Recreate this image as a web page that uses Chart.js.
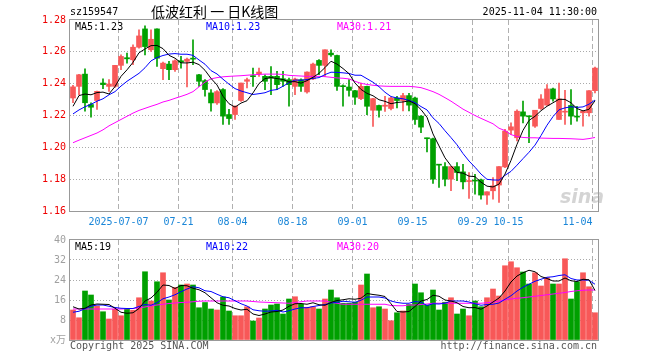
<!DOCTYPE html>
<html>
<head>
<meta charset="utf-8">
<script src="https://cdn.jsdelivr.net/npm/chart.js@4.4.0/dist/chart.umd.min.js"></script>
<style>
  html, body { margin: 0; padding: 0; background: #fff; }
  #wrap { position: relative; width: 660px; height: 360px; overflow: hidden;
          font-family: "DejaVu Sans Mono", monospace; font-size: 10px; }
  canvas { position: absolute; left: 0; }
  .t { position: absolute; white-space: pre; line-height: 10px; }
</style>
</head>
<body>
<div id="wrap">
  <canvas id="kChart" width="660" height="232" style="top:0"></canvas>
  <canvas id="volChart" width="660" height="130" style="top:230px"></canvas>

  <div class="t" style="left:70px;top:7px;color:#000">sz159547</div>
  <div class="t" style="left:151px;top:3px;font:14px 'Noto Sans CJK SC';line-height:16px;color:#000">低波红利 一 日K线图</div>
  <div class="t" style="right:63px;top:7px;color:#000">2025-11-04 11:30:00</div>

  <div class="t" style="left:75px;top:22px;color:#000">MA5:1.23</div>
  <div class="t" style="left:206px;top:22px;color:#0000ff">MA10:1.23</div>
  <div class="t" style="left:337px;top:22px;color:#ff00ff">MA30:1.21</div>

  <div class="t" style="left:560px;top:186px;font:italic bold 19px 'DejaVu Sans';line-height:20px;color:rgba(160,160,160,0.45)">sina</div>

  <div class="t" style="left:75px;top:242px;color:#000">MA5:19</div>
  <div class="t" style="left:206px;top:242px;color:#0000ff">MA10:22</div>
  <div class="t" style="left:337px;top:242px;color:#ff00ff">MA30:20</div>

  <div class="t" style="left:70px;top:341px;color:#555">Copyright 2025 SINA.COM</div>
  <div class="t" style="right:63px;top:341px;color:#555">http://finance.sina.com.cn</div>
</div>

<script>
// 交易日
const dates = [
  '2025-06-25','2025-06-26','2025-06-27','2025-06-30','2025-07-01','2025-07-02','2025-07-03','2025-07-04',
  '2025-07-07','2025-07-08','2025-07-09','2025-07-10','2025-07-11',
  '2025-07-14','2025-07-15','2025-07-16','2025-07-17','2025-07-18',
  '2025-07-21','2025-07-22','2025-07-23','2025-07-24','2025-07-25',
  '2025-07-28','2025-07-29','2025-07-30','2025-07-31',
  '2025-08-04','2025-08-05','2025-08-06','2025-08-07','2025-08-08',
  '2025-08-11','2025-08-12','2025-08-13','2025-08-14','2025-08-15',
  '2025-08-18','2025-08-19','2025-08-20','2025-08-21','2025-08-22',
  '2025-08-25','2025-08-26','2025-08-27','2025-08-28','2025-08-29',
  '2025-09-01','2025-09-02','2025-09-03','2025-09-04','2025-09-05',
  '2025-09-08','2025-09-09','2025-09-10','2025-09-11','2025-09-12',
  '2025-09-15','2025-09-16','2025-09-17','2025-09-18','2025-09-19',
  '2025-09-22','2025-09-23','2025-09-24','2025-09-25','2025-09-26',
  '2025-09-29','2025-09-30','2025-10-09','2025-10-10',
  '2025-10-13','2025-10-14','2025-10-15','2025-10-16','2025-10-17',
  '2025-10-20','2025-10-21','2025-10-22','2025-10-23','2025-10-24',
  '2025-10-27','2025-10-28','2025-10-29','2025-10-30','2025-10-31',
  '2025-11-03','2025-11-04'
];
const tickDates = ['2025-07-07','2025-07-21','2025-08-04','2025-08-18','2025-09-01',
                   '2025-09-15','2025-09-29','2025-10-15','2025-11-04'];

// K线 开高低收
const open = [1.231,1.2383,1.246,1.2269,1.2294,1.2404,1.2383,1.2383,1.2515,1.2563,
  1.255,1.2629,1.2744,1.2613,1.2744,1.2494,1.2523,1.2488,1.2544,1.254,
  1.2558,1.2456,1.2419,1.2342,1.2279,1.2363,1.2206,1.2206,1.2294,1.2415,
  1.2448,1.2463,1.2446,1.2446,1.2446,1.2431,1.2425,1.2383,1.2425,1.2348,
  1.243,1.2546,1.2515,1.2592,1.2577,1.2385,1.2379,1.2356,1.2306,1.2383,
  1.2233,1.2263,1.2258,1.2244,1.231,1.2294,1.2325,1.231,1.2196,1.2058,
  1.2054,1.1892,1.1879,1.18,1.1879,1.1846,1.1785,1.1792,1.1796,1.17,
  1.1727,1.1763,1.1877,1.2108,1.206,1.2223,1.2194,1.2133,1.2244,1.2265,
  1.2367,1.2175,1.2221,1.2263,1.2194,1.2217,1.2217,1.2356];
const high = [1.239,1.2458,1.2494,1.228,1.2354,1.2431,1.2425,1.2515,1.2581,1.2592,
  1.2644,1.2738,1.2763,1.2738,1.2744,1.2535,1.254,1.255,1.2571,1.256,
  1.2675,1.2458,1.2425,1.2363,1.2356,1.2369,1.2238,1.226,1.2404,1.2435,
  1.2498,1.2498,1.2456,1.2508,1.2477,1.2477,1.2435,1.2435,1.2431,1.2475,
  1.2529,1.2552,1.2613,1.2613,1.258,1.2392,1.2425,1.2358,1.2404,1.2385,
  1.2308,1.2265,1.2321,1.2315,1.2321,1.234,1.234,1.2315,1.22,1.2058,
  1.2058,1.1892,1.1904,1.1879,1.1904,1.1894,1.1842,1.1831,1.18,1.1721,
  1.181,1.1879,1.2113,1.2154,1.2235,1.229,1.2196,1.2233,1.2331,1.2394,
  1.2373,1.2404,1.2358,1.2363,1.2258,1.2227,1.2356,1.2504];
const low = [1.228,1.233,1.2227,1.219,1.2238,1.2369,1.2352,1.2377,1.2488,1.2529,
  1.2519,1.2623,1.2581,1.2602,1.2508,1.2425,1.2425,1.2477,1.2498,1.2379,
  1.2519,1.2383,1.2321,1.2227,1.2269,1.2144,1.2144,1.2175,1.2288,1.2373,
  1.2383,1.2446,1.2363,1.2331,1.2363,1.2383,1.2258,1.2331,1.2352,1.234,
  1.2425,1.2456,1.2446,1.2571,1.2358,1.2258,1.2321,1.2269,1.23,1.2206,
  1.2131,1.219,1.2225,1.2235,1.2248,1.2229,1.2229,1.2144,1.2092,1.1971,
  1.1773,1.1748,1.1758,1.1727,1.179,1.1738,1.1679,1.1706,1.1675,1.1642,
  1.1675,1.1654,1.1873,1.2081,1.204,1.2154,1.2029,1.2125,1.2238,1.2265,
  1.229,1.2175,1.2144,1.2144,1.2165,1.2133,1.2196,1.2342];
const close = [1.238,1.2456,1.228,1.2252,1.2352,1.2394,1.2398,1.2515,1.2571,1.2556,
  1.2629,1.27,1.2633,1.2679,1.256,1.2529,1.2488,1.2544,1.2535,1.2554,
  1.2554,1.2415,1.2363,1.2279,1.235,1.2196,1.2181,1.2258,1.2404,1.2425,
  1.2444,1.2473,1.2415,1.2435,1.2394,1.2415,1.2394,1.2429,1.2383,1.2473,
  1.2523,1.2515,1.2613,1.2581,1.2383,1.2381,1.2358,1.2315,1.2383,1.2258,
  1.2306,1.2233,1.2265,1.231,1.2294,1.2325,1.2265,1.2175,1.2127,1.2054,
  1.18,1.1888,1.18,1.1879,1.1842,1.1783,1.179,1.1788,1.17,1.1721,
  1.1758,1.1879,1.2102,1.2129,1.2227,1.2196,1.2192,1.2233,1.2304,1.2367,
  1.2304,1.2304,1.2227,1.2196,1.219,1.2227,1.2356,1.2498];

// 均线
const ma5 = [1.2258,1.2325,1.2335,1.2330,1.2344,1.2347,1.2335,1.2382,1.2446,1.2487,
  1.2534,1.2594,1.2618,1.2639,1.2640,1.2620,1.2578,1.2560,1.2531,1.2530,
  1.2535,1.2520,1.2484,1.2433,1.2392,1.2321,1.2274,1.2253,1.2278,1.2293,
  1.2342,1.2401,1.2432,1.2438,1.2432,1.2426,1.2411,1.2413,1.2403,1.2419,
  1.2440,1.2465,1.2501,1.2541,1.2523,1.2495,1.2463,1.2404,1.2364,1.2339,
  1.2324,1.2299,1.2289,1.2274,1.2282,1.2285,1.2292,1.2274,1.2237,1.2189,
  1.2084,1.2009,1.1934,1.1884,1.1842,1.1838,1.1819,1.1816,1.1781,1.1756,
  1.1751,1.1769,1.1832,1.1918,1.2019,1.2107,1.2169,1.2195,1.2230,1.2258,
  1.2280,1.2302,1.2301,1.2280,1.2244,1.2229,1.2239,1.2293];
const ma10 = [1.2210,1.2235,1.2255,1.2270,1.2290,1.2305,1.2330,1.2350,1.2385,1.2415,
  1.2440,1.2465,1.2500,1.2543,1.2564,1.2577,1.2586,1.2589,1.2585,1.2585,
  1.2578,1.2549,1.2522,1.2482,1.2461,1.2428,1.2397,1.2369,1.2354,1.2343,
  1.2332,1.2337,1.2343,1.2358,1.2363,1.2384,1.2406,1.2423,1.2421,1.2426,
  1.2433,1.2438,1.2457,1.2472,1.2471,1.2468,1.2464,1.2453,1.2453,1.2431,
  1.2409,1.2381,1.2346,1.2319,1.2310,1.2305,1.2295,1.2281,1.2256,1.2235,
  1.2185,1.2150,1.2104,1.2061,1.2016,1.1961,1.1914,1.1875,1.1832,1.1799,
  1.1795,1.1794,1.1824,1.1849,1.1888,1.1929,1.1969,1.2014,1.2074,1.2139,
  1.2193,1.2236,1.2248,1.2255,1.2251,1.2254,1.2271,1.2297];
const ma30 = [1.2029,1.2045,1.2060,1.2075,1.2090,1.2110,1.2135,1.2155,1.2175,1.2195,
  1.2215,1.2232,1.2245,1.2258,1.2270,1.2285,1.2295,1.2308,1.2320,1.2333,
  1.2350,1.2380,1.2410,1.2430,1.2438,1.2443,1.2446,1.2448,1.2450,1.2453,
  1.2456,1.2458,1.2460,1.2460,1.2460,1.2458,1.2452,1.2450,1.2448,1.2446,
  1.2446,1.2446,1.2444,1.2440,1.2436,1.2434,1.2430,1.2415,1.2402,1.2395,
  1.2390,1.2386,1.2384,1.2383,1.2383,1.2383,1.2383,1.2380,1.2375,1.2363,
  1.2350,1.2333,1.2312,1.2290,1.2265,1.2240,1.2220,1.2200,1.2182,1.2165,
  1.2148,1.2120,1.2105,1.2080,1.2068,1.2062,1.2060,1.2060,1.2058,1.2057,
  1.2056,1.2056,1.2055,1.2054,1.2052,1.2050,1.2055,1.2062];

// 成交量（万）
const volume = [12.0,8.9,19.6,18.0,13.6,11.3,8.4,12.3,9.7,12.3,
  11.9,16.9,27.3,15.6,23.3,26.9,16.0,21.0,22.0,22.4,
  22.0,12.9,15.0,12.4,12.0,17.2,11.6,9.7,9.7,13.3,
  7.6,8.8,12.4,14.0,14.4,10.4,16.4,17.3,14.3,13.1,
  13.3,12.4,16.4,20.0,16.9,14.7,14.7,15.1,22.0,26.4,
  12.9,13.3,12.4,7.7,10.9,11.6,14.2,22.4,18.9,14.0,
  20.0,12.0,15.1,16.9,10.4,12.4,9.7,15.6,13.3,16.9,
  20.4,17.6,29.7,31.3,28.9,27.2,22.4,26.9,21.6,24.9,
  22.4,22.4,32.5,16.4,23.3,26.9,21.3,10.9];
const volMa5 = [13.3,12.4,12.7,14.0,14.4,14.3,14.2,12.7,11.1,10.7,
  10.9,12.6,15.6,16.8,19.1,22.0,21.8,20.6,21.8,21.7,
  20.7,20.1,18.9,16.9,14.9,13.9,13.6,12.6,12.0,12.3,
  10.4,9.8,10.4,11.2,11.4,12.0,13.5,14.5,14.6,14.3,
  14.9,14.1,13.9,15.0,15.8,16.1,16.5,16.3,16.7,18.6,
  18.2,17.9,17.4,14.5,11.4,11.2,11.4,13.4,15.6,16.2,
  17.9,17.5,16.0,15.6,14.9,13.4,12.9,13.0,12.3,13.6,
  15.2,16.8,19.6,23.2,25.6,26.9,27.9,27.3,25.4,24.6,
  23.6,23.6,24.8,23.7,23.4,24.3,24.1,19.8];
const volMa10 = [11.1,11.5,12.5,13.5,14.0,14.0,13.5,13.0,12.7,12.6,
  12.6,13.4,14.2,13.9,14.9,16.5,17.2,18.1,19.3,20.4,
  21.3,20.9,19.7,19.4,18.3,17.3,16.9,15.7,14.5,13.6,
  12.1,11.7,11.5,11.6,11.9,11.2,11.7,12.4,12.9,12.9,
  13.4,13.8,14.2,14.8,15.1,15.5,15.3,15.1,15.9,17.2,
  17.2,17.2,16.8,15.6,15.0,14.7,14.7,15.4,15.1,13.8,
  14.5,14.4,14.7,15.6,15.6,15.6,15.2,14.5,13.9,14.2,
  14.3,14.8,16.3,17.7,19.6,21.1,22.3,23.5,24.3,25.1,
  25.3,25.8,26.1,24.6,24.0,24.0,23.9,22.3];
const volMa30 = [12.4,12.4,12.4,12.4,12.4,12.4,12.4,12.4,12.4,12.5,
  12.6,12.9,13.2,13.7,14.0,14.3,14.6,14.8,15.0,15.1,
  15.3,15.5,15.6,15.6,15.6,15.6,15.6,15.6,15.6,15.6,
  15.4,15.2,15.1,15.0,14.9,14.8,14.7,15.0,15.3,15.6,
  15.6,15.6,15.6,15.1,14.7,14.3,14.3,14.3,14.3,14.3,
  14.3,14.3,14.3,13.8,13.7,13.7,14.0,14.0,14.2,14.4,
  14.7,14.7,14.7,14.7,14.7,14.7,14.7,14.7,14.7,14.9,
  15.2,15.6,16.0,16.4,16.7,16.9,17.2,17.5,17.8,18.1,
  18.4,18.7,19.0,19.4,19.7,19.9,20.0,20.0];

const priceTicks = [1.16, 1.18, 1.20, 1.22, 1.24, 1.26, 1.28];
const volTicks = [0, 8, 16, 24, 32, 40];

const RED = '#f85858', GREEN = '#00a000';
const colors = close.map((c, i) => c >= open[i] ? RED : GREEN);
const markIdx = new Set(tickDates.map(d => dates.indexOf(d)));

Chart.defaults.font.family = "'DejaVu Sans Mono', 'Noto Sans CJK SC', monospace";
Chart.defaults.font.size = 10;
Chart.defaults.animation = false;

// 外框
const framePlugin = {
  id: 'frame',
  afterDraw(chart) {
    const { ctx, chartArea: a } = chart;
    ctx.save();
    ctx.strokeStyle = '#999';
    ctx.lineWidth = 1;
    ctx.strokeRect(Math.round(a.left) - 0.5, Math.round(a.top) - 0.5,
                   Math.round(a.right - a.left) + 1, Math.round(a.bottom - a.top) + 1);
    ctx.restore();
  }
};

function xLabel(i) {
  const d = dates[i];
  if (!markIdx.has(i)) return '';
  if (i === markIdx.values().next().value) return d;
  // 最后一个标签靠右
  if (i === dates.length - 1) return d.slice(5) + '     ';
  return d.slice(5);
}

const xGrid = {
  offset: true,
  drawTicks: false,
  lineWidth: 1,
  color: c => markIdx.has(c.index) ? '#b0b0b0' : 'rgba(0,0,0,0)'
};

function lineDs(data, color) {
  return { type: 'line', data, borderColor: color, borderWidth: 1, pointRadius: 0,
           tension: 0, fill: false, order: 0 };
}

// 1. 日K线图
new Chart(document.getElementById('kChart'), {
  type: 'bar',
  data: {
    labels: dates,
    datasets: [
      lineDs(ma5, '#000000'),
      lineDs(ma10, '#0000ff'),
      lineDs(ma30, '#ff00ff'),
      { data: low.map((l, i) => [l, high[i]]), backgroundColor: colors,
        barThickness: 1, grouped: false, order: 2 },
      { data: open.map((o, i) => [o, close[i]]), backgroundColor: colors,
        barThickness: 5, grouped: false, minBarLength: 1, order: 1 }
    ]
  },
  options: {
    responsive: false,
    layout: { padding: { left: 0, top: 20, right: 62, bottom: 0 } },
    plugins: { legend: { display: false }, tooltip: { enabled: false } },
    scales: {
      x: {
        offset: true,
        grid: xGrid,
        border: { display: false, dash: [5, 3] },
        ticks: { autoSkip: false, maxRotation: 0, minRotation: 0, padding: 5,
                 labelOffset: -2.5, color: '#1a86d8', callback: (v, i) => xLabel(i) },
        afterFit: s => { s.height = 21; }
      },
      y: {
        min: priceTicks[0], max: priceTicks[priceTicks.length - 1],
        afterBuildTicks: s => { s.ticks = priceTicks.map(v => ({ value: v })); },
        ticks: { color: '#ee0000', padding: 4, callback: v => v.toFixed(2) },
        grid: { drawTicks: false, lineWidth: 1,
                color: c => (c.index > 0 && c.index < priceTicks.length - 1) ? '#aaaaaa' : 'rgba(0,0,0,0)' },
        border: { display: false, dash: [1, 2] },
        afterFit: s => { s.width = 70; }
      }
    }
  },
  plugins: [framePlugin]
});

// 2. 成交量图
new Chart(document.getElementById('volChart'), {
  type: 'bar',
  data: {
    labels: dates,
    datasets: [
      lineDs(volMa5, '#000000'),
      lineDs(volMa10, '#0000ff'),
      lineDs(volMa30, '#ff00ff'),
      { data: volume, backgroundColor: colors, barThickness: 5, grouped: false, order: 1 }
    ]
  },
  options: {
    responsive: false,
    layout: { padding: { left: 0, top: 10, right: 62, bottom: 0 } },
    plugins: { legend: { display: false }, tooltip: { enabled: false } },
    scales: {
      x: {
        offset: true,
        grid: xGrid,
        border: { display: false, dash: [5, 3] },
        ticks: { display: false, autoSkip: false, maxRotation: 0 },
        afterFit: s => { s.height = 20; }
      },
      y: {
        min: volTicks[0], max: volTicks[volTicks.length - 1],
        afterBuildTicks: s => { s.ticks = volTicks.map(v => ({ value: v })); },
        ticks: { color: '#a0a0a0', padding: 4, callback: v => v === 0 ? 'x万' : v },
        grid: { drawTicks: false, lineWidth: 1,
                color: c => (c.index > 0 && c.index < volTicks.length - 1) ? '#aaaaaa' : 'rgba(0,0,0,0)' },
        border: { display: false, dash: [1, 2] },
        afterFit: s => { s.width = 70; }
      }
    }
  },
  plugins: [framePlugin]
});
</script>
</body>
</html>
